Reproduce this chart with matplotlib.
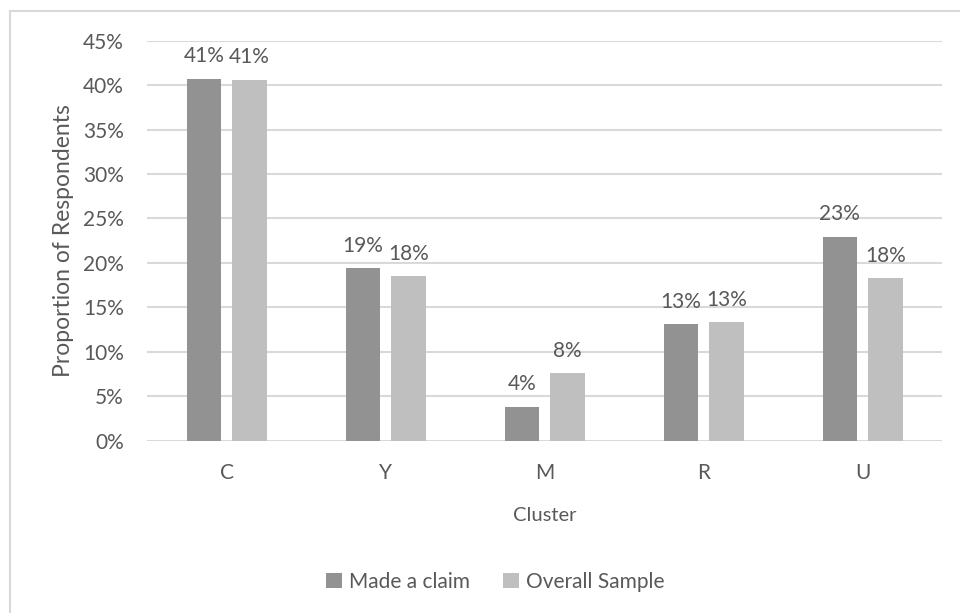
import matplotlib.pyplot as plt
import numpy as np
from matplotlib.patches import Rectangle
from matplotlib.ticker import FuncFormatter

plt.rcParams['font.family'] = ['Lato', 'DejaVu Sans']

clusters = ['C', 'Y', 'M', 'R', 'U']
made_claim = [40.7, 19.4, 3.8, 13.1, 22.95]
overall = [40.6, 18.5, 7.6, 13.3, 18.3]
series_names = ['Made a claim', 'Overall Sample']

txt = '#595959'
dark = '#929292'
light = '#bfbfbf'

fig = plt.figure(figsize=(9.6, 6.13), dpi=100)
ax = fig.add_axes([0.1534, 0.2811, 0.828, 0.6525])

# light border round the chart area
fig.patches.append(Rectangle((10 / 960, -0.1), 1.2, 1 - 11 / 613 + 0.1,
                             transform=fig.transFigure, fill=False,
                             edgecolor='#d9d9d9', linewidth=1.5))

x = np.arange(len(clusters))
w = 0.217
off = 0.143
b1 = ax.bar(x - off, made_claim, w, color=dark, label=series_names[0], zorder=3)
b2 = ax.bar(x + off, overall, w, color=light, label=series_names[1], zorder=3)

for bars, vals in [(b1, made_claim), (b2, overall)]:
    for r, v in zip(bars, vals):
        ax.annotate('%d%%' % round(v), (r.get_x() + r.get_width() / 2, v),
                    xytext=(0, 9), textcoords='offset points',
                    ha='center', va='bottom', fontsize=15, color=txt)

ax.set_xlim(-0.5, 4.5)
ax.set_ylim(0, 45)
ax.set_yticks(range(0, 46, 5))
ax.yaxis.set_major_formatter(FuncFormatter(lambda v, p: '%d%%' % v))
ax.set_xticks(x)
ax.set_xticklabels(clusters)
ax.tick_params(axis='both', length=0, labelsize=15, labelcolor=txt)
ax.tick_params(axis='x', pad=16)
ax.tick_params(axis='y', pad=17)
ax.grid(axis='y', color='#d9d9d9', linewidth=1.5, zorder=0)
for s in ax.spines.values():
    s.set_visible(False)

ax.set_xlabel('Cluster', fontsize=14.5, color=txt, labelpad=17)
ax.set_ylabel('Proportion of Respondents', fontsize=16.5, color=txt, labelpad=6)

fig.legend(handles=[b1, b2], loc='center', bbox_to_anchor=(0.516, 0.051),
           ncol=2, frameon=False, fontsize=15, labelcolor=txt,
           handlelength=0.75, handleheight=0.75, handletextpad=0.35,
           columnspacing=1.6)

plt.savefig('out.png', dpi=100)
